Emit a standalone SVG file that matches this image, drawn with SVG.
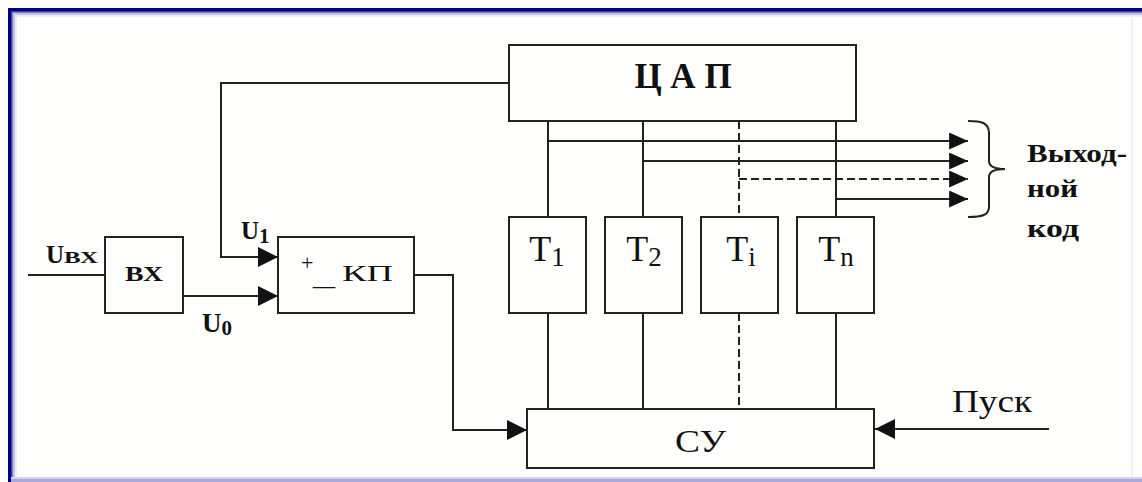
<svg xmlns="http://www.w3.org/2000/svg" width="1142" height="482" viewBox="0 0 1142 482">
<style>
.box{fill:none;stroke:#222;stroke-width:2}
.ln{fill:none;stroke:#222;stroke-width:2}
.ds{fill:none;stroke:#222;stroke-width:2;stroke-dasharray:8 4}
.tx{font-family:"Liberation Serif","Times New Roman",serif;fill:#111}
.b{font-weight:bold}
</style>
<defs>
<marker id="ar" viewBox="0 0 20 20" refX="20" refY="10" markerWidth="20" markerHeight="20" markerUnits="userSpaceOnUse" orient="auto">
<path d="M0,0 L20,10 L0,20 Z" fill="#111"/>
</marker>
<marker id="ars" viewBox="0 0 20 18" refX="20" refY="9" markerWidth="20" markerHeight="17" markerUnits="userSpaceOnUse" orient="auto">
<path d="M0,0 L20,9 L0,18 Z" fill="#111"/>
</marker>
</defs>
<rect x="0" y="0" width="1142" height="482" fill="#fffffd"/>
<g id="frame">
<rect x="8" y="8" width="1134" height="3" fill="#000080"/>
<rect x="8" y="8" width="3" height="474" fill="#000080"/>
<rect x="11" y="11" width="1131" height="1" fill="#3c3cac"/>
<rect x="11" y="11" width="1" height="471" fill="#3c3cac"/>
<rect x="12" y="12" width="1130" height="1" fill="#8080cc"/>
<rect x="12" y="12" width="1" height="470" fill="#8080cc"/>
<rect x="13" y="13" width="1129" height="2" fill="#c4c4ea"/>
<rect x="13" y="13" width="2" height="469" fill="#c4c4ea"/>
<rect x="15" y="15" width="1127" height="2" fill="#eeeefa"/>
<rect x="15" y="15" width="2" height="467" fill="#eeeefa"/>
<rect x="11" y="477" width="1131" height="2" fill="#d4d4f0"/>
<rect x="11" y="479" width="1131" height="3" fill="#a8a8dc"/>
<rect x="1131" y="15" width="2" height="462" fill="#f6eef6"/>
</g>
<g id="connectors">
<polyline class="ln" points="28,275 105,275"/>
<polyline class="ln" points="183,296 278,296" marker-end="url(#ar)"/>
<polyline class="ln" points="509,83 221,83 221,257 278,257" marker-end="url(#ar)"/>
<polyline class="ln" points="414,275 453,275 453,430 527,430" marker-end="url(#ar)"/>
<polyline class="ln" points="1049,429 875,429" marker-end="url(#ar)"/>
<line class="ln" x1="548" y1="121" x2="548" y2="217"/>
<line class="ln" x1="643" y1="121" x2="643" y2="217"/>
<line class="ds" x1="739" y1="121" x2="739" y2="217"/>
<line class="ln" x1="836" y1="121" x2="836" y2="217"/>
<line class="ln" x1="548" y1="313" x2="548" y2="409"/>
<line class="ln" x1="643" y1="313" x2="643" y2="409"/>
<line class="ds" x1="739" y1="313" x2="739" y2="409"/>
<line class="ln" x1="836" y1="313" x2="836" y2="409"/>
<polyline class="ln" points="548,141 968,141" marker-end="url(#ars)"/>
<polyline class="ln" points="643,161 968,161" marker-end="url(#ars)"/>
<polyline class="ds" points="739,179 968,179" marker-end="url(#ars)"/>
<polyline class="ln" points="836,199 968,199" marker-end="url(#ars)"/>
<path class="ln" stroke-width="1.5" d="M968,121 C982,121 989,123 989,133 L989,161 C989,166 995,169 1005,169 C995,169 989,172 989,177 L989,207 C989,215 982,217 968,217"/>
</g>
<g id="vx">
<rect class="box" x="105" y="237" width="78" height="76"/>
<text class="tx b" x="125" y="281" font-size="20" textLength="38" lengthAdjust="spacingAndGlyphs">ВХ</text>
</g>
<g id="kp">
<rect class="box" x="278" y="237" width="136" height="76"/>
<text class="tx" x="301" y="270" font-size="22">+</text>
<text class="tx" x="313" y="285" font-size="24" textLength="22" lengthAdjust="spacingAndGlyphs">_</text>
<text class="tx" x="342" y="281" font-size="24" textLength="51" lengthAdjust="spacingAndGlyphs">КП</text>
</g>
<g id="cap">
<rect class="box" x="509" y="45" width="347" height="76"/>
<text class="tx b" x="683" y="88" font-size="35" text-anchor="middle">Ц А П</text>
</g>
<g id="t1">
<rect class="box" x="509" y="217" width="77" height="96"/>
<text class="tx" x="547" y="261" font-size="36" text-anchor="middle">T<tspan font-size="27" dy="5">1</tspan></text>
</g>
<g id="t2">
<rect class="box" x="605" y="217" width="77" height="96"/>
<text class="tx" x="644" y="261" font-size="36" text-anchor="middle">T<tspan font-size="27" dy="5">2</tspan></text>
</g>
<g id="ti">
<rect class="box" x="701" y="217" width="77" height="96"/>
<text class="tx" x="741" y="261" font-size="36" text-anchor="middle">T<tspan font-size="27" dy="5">i</tspan></text>
</g>
<g id="tn">
<rect class="box" x="797" y="217" width="77" height="96"/>
<text class="tx" x="836" y="261" font-size="36" text-anchor="middle">T<tspan font-size="27" dy="5">n</tspan></text>
</g>
<g id="su">
<rect class="box" x="527" y="409" width="347" height="59"/>
<text class="tx" x="675" y="452" font-size="32" textLength="51" lengthAdjust="spacingAndGlyphs">СУ</text>
</g>
<g id="labels">
<text class="tx b" x="46" y="263" font-size="25">U<tspan font-size="17" textLength="34" lengthAdjust="spacingAndGlyphs">ВХ</tspan></text>
<text class="tx b" x="241" y="239" font-size="25">U<tspan font-size="21" dy="4">1</tspan></text>
<text class="tx b" x="202" y="332" font-size="27">U<tspan font-size="21" dy="3">0</tspan></text>
<text class="tx" x="952" y="412" font-size="32" textLength="80" lengthAdjust="spacingAndGlyphs">Пуск</text>
<text class="tx b" x="1027" y="162" font-size="26" textLength="100" lengthAdjust="spacingAndGlyphs">Выход-</text>
<text class="tx b" x="1027" y="197" font-size="26" textLength="51" lengthAdjust="spacingAndGlyphs">ной</text>
<text class="tx b" x="1027" y="237" font-size="26" textLength="52" lengthAdjust="spacingAndGlyphs">код</text>
</g>
</svg>
